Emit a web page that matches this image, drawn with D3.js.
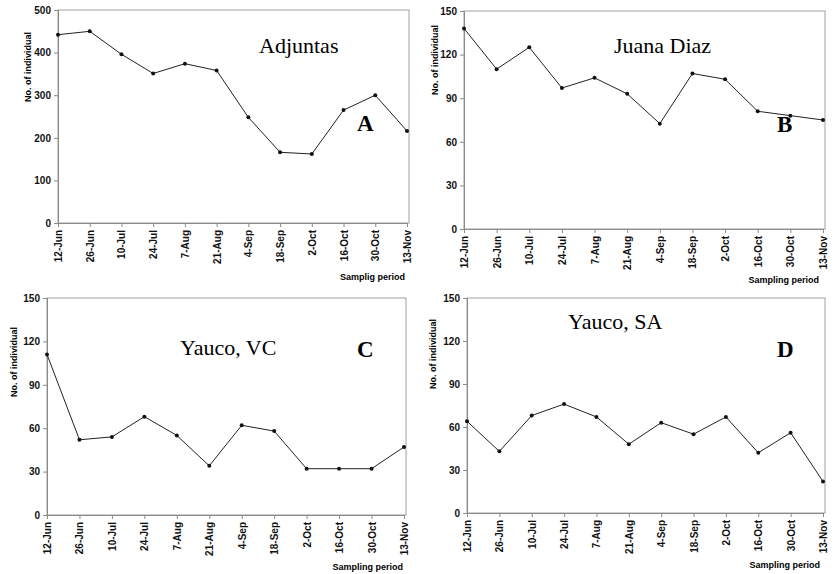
<html>
<script src='https://d3js.org/d3.v7.min.js'></script>
<style>
body {margin:0; background:#fff;}
.tick text {font-family: Arial, 'Liberation Sans', sans-serif; font-weight: bold; fill:#111;}
.tick line, .domain {stroke:#8a8a8a;}
</style>
<body onload='init()'>
<svg width=835 height=574></svg>
<script>
var dates = ["12-Jun","26-Jun","10-Jul","24-Jul","7-Aug","21-Aug","4-Sep","18-Sep","2-Oct","16-Oct","30-Oct","13-Nov"];

var adjuntas  = [442,450,396,351,374,358,248,166,162,265,300,216];
var juanaDiaz = [138,110,125,97,104,93,72.5,107,103,81,78,75];
var yaucoVC   = [111,52,54,68,55,34,62,58,32,32,32,47];
var yaucoSA   = [64,43,68,76,67,48,63,55,67,42,56,22];

var ticksA = [0,100,200,300,400,500];
var ticks150 = [0,30,60,90,120,150];

function init() {

var panels = [
  {values:adjuntas, max:500, ticks:ticksA, name:"Adjuntas", letter:"A", xlab:"Samplig period",
   left:58, top:10, w:351, h:213, nameX:259, nameY:53, letX:357, letY:131, ylX:28, ylY:67, xlX:405, xlY:280},
  {values:juanaDiaz, max:150, ticks:ticks150, name:"Juana Diaz", letter:"B", xlab:"Sampling period",
   left:464, top:11, w:361, h:218, nameX:614, nameY:53, letX:777, letY:132, ylX:435, ylY:60, xlX:819, xlY:283},
  {values:yaucoVC, max:150, ticks:ticks150, name:"Yauco, VC", letter:"C", xlab:"Sampling period",
   left:47, top:298, w:359, h:217, nameX:180, nameY:355, letX:357, letY:357, ylX:14, ylY:362, xlX:403, xlY:570},
  {values:yaucoSA, max:150, ticks:ticks150, name:"Yauco, SA", letter:"D", xlab:"Sampling period",
   left:467, top:298, w:358, h:215, nameX:568, nameY:329, letX:777, letY:357, ylX:433, ylY:354, xlX:820, xlY:568}
];

var svg = d3.select("svg");

panels.forEach(function(p) {
  var x = d3.scalePoint().domain(dates).range([0, p.w - 2]);
  var y = d3.scaleLinear().domain([0, p.max]).range([p.h, 0]);

  var g = svg.append("g").attr("transform","translate("+p.left+","+p.top+")");

  // frame
  g.append("rect").attr("width",p.w).attr("height",p.h)
    .attr("fill","none").attr("stroke","#a0a0a0").attr("stroke-width",1);

  g.append("g").call(d3.axisLeft(y).tickValues(p.ticks).tickSize(4).tickPadding(3))
    .selectAll("text").style("font-size","10px");

  var xa = g.append("g").attr("transform","translate(0,"+p.h+")")
    .call(d3.axisBottom(x).tickSize(4).tickPadding(3));
  xa.selectAll("text")
    .style("font-size","10px")
    .attr("transform","rotate(-90)")
    .attr("text-anchor","end")
    .attr("x",-7).attr("y",0).attr("dy","0.35em");

  var line = d3.line().x(function(d,i){return x(dates[i]);}).y(function(d){return y(d);});
  g.append("path").datum(p.values).attr("d",line)
    .attr("fill","none").attr("stroke","#222").attr("stroke-width",1);

  g.selectAll("circle").data(p.values).enter().append("circle")
    .attr("cx",function(d,i){return x(dates[i]);})
    .attr("cy",function(d){return y(d);})
    .attr("r",2).attr("fill","#111");

  svg.append("text").attr("x",p.nameX).attr("y",p.nameY)
    .style("font-family","'Liberation Serif','Times New Roman',serif").style("font-size","22px")
    .text(p.name);
  svg.append("text").attr("x",p.letX).attr("y",p.letY)
    .style("font-family","'Liberation Serif','Times New Roman',serif").style("font-size","23px")
    .style("font-weight","bold").text(p.letter);

  svg.append("text").attr("transform","translate("+p.ylX+","+p.ylY+") rotate(-90)")
    .attr("text-anchor","middle").attr("dy","0.35em")
    .style("font-family","Arial,'Liberation Sans',sans-serif").style("font-size","9px").style("font-weight","bold")
    .text("No. of individual");

  svg.append("text").attr("x",p.xlX).attr("y",p.xlY).attr("text-anchor","end")
    .style("font-family","Arial,'Liberation Sans',sans-serif").style("font-size","9px").style("font-weight","bold")
    .text(p.xlab);
});

}
</script>
</body>
</html>
